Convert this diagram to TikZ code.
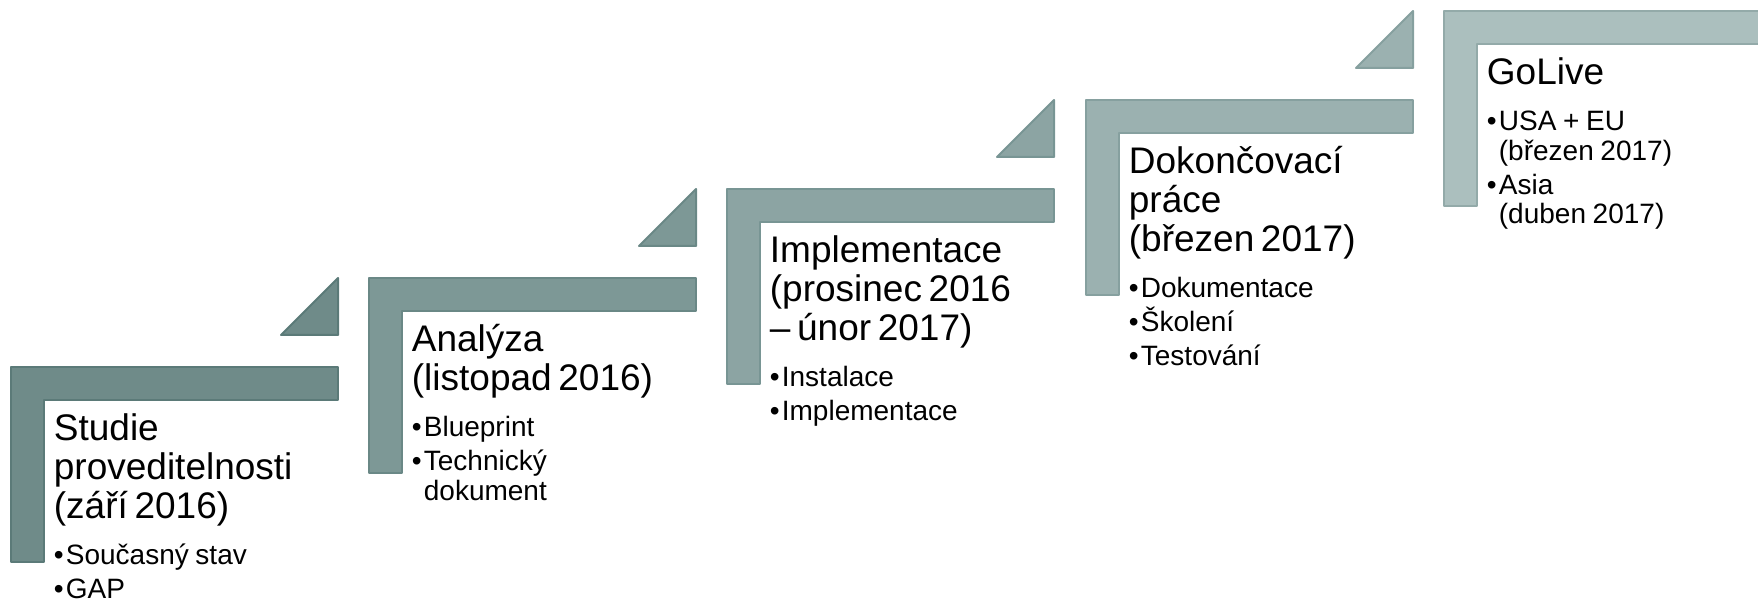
\documentclass[tikz,border=0pt]{standalone}
\usepackage{fontspec}
\setmainfont{Liberation Sans}
\usepackage{tikz}
\definecolor{fillA}{HTML}{6F8B89}
\definecolor{lineA}{HTML}{5B7A78}
\definecolor{fillB}{HTML}{7D9896}
\definecolor{lineB}{HTML}{6A8886}
\definecolor{fillC}{HTML}{8CA4A3}
\definecolor{lineC}{HTML}{789594}
\definecolor{fillD}{HTML}{9BB1B0}
\definecolor{lineD}{HTML}{86A09F}
\definecolor{fillE}{HTML}{ABBFBE}
\definecolor{lineE}{HTML}{93AAA9}
\tikzstyle{stepA} = [fill=fillA, draw=lineA, line width=1pt, line join=round]
\tikzstyle{stepB} = [fill=fillB, draw=lineB, line width=1pt, line join=round]
\tikzstyle{stepC} = [fill=fillC, draw=lineC, line width=1pt, line join=round]
\tikzstyle{stepD} = [fill=fillD, draw=lineD, line width=1pt, line join=round]
\tikzstyle{stepE} = [fill=fillE, draw=lineE, line width=1pt, line join=round]
\tikzstyle{txt} = [anchor=north west, inner sep=0pt, text width=170pt, align=left]
\newcommand{\head}[1]{{\fontsize{18.5}{19.5}\selectfont\lineskiplimit=-20pt\noindent\strut #1\par}\vskip 6.25pt}
\newcommand{\bul}[1]{\vskip 2.25pt{\fontsize{14}{14.75}\selectfont\lineskiplimit=-20pt\hangindent=6pt\hangafter=1\noindent\makebox[6pt][l]{•}#1\par}}

\begin{document}
\begin{tikzpicture}[x=0.5pt,y=-0.5pt]
	  \useasboundingbox (0,0) rectangle (1758,604);
	  \clip (0,0) rectangle (1758,604);

	  \draw [stepA] (11,367) -- ++(327,0) -- ++(0,33) -- ++(-294,0) -- ++(0,162) -- ++(-33,0) -- cycle;
	  \draw [stepA] (281,335) -- (338,335) -- (338,278) -- cycle;
	  \draw [stepB] (369,278) -- ++(327,0) -- ++(0,33) -- ++(-294,0) -- ++(0,162) -- ++(-33,0) -- cycle;
	  \draw [stepB] (639,246) -- (696,246) -- (696,189) -- cycle;
	  \draw [stepC] (727,189) -- ++(327,0) -- ++(0,33) -- ++(-294,0) -- ++(0,162) -- ++(-33,0) -- cycle;
	  \draw [stepC] (997,157) -- (1054,157) -- (1054,100) -- cycle;
	  \draw [stepD] (1086,100) -- ++(327,0) -- ++(0,33) -- ++(-294,0) -- ++(0,162) -- ++(-33,0) -- cycle;
	  \draw [stepD] (1356,68) -- (1413,68) -- (1413,11) -- cycle;
	  \draw [stepE] (1444,11) -- ++(327,0) -- ++(0,33) -- ++(-294,0) -- ++(0,162) -- ++(-33,0) -- cycle;

	  \node (studie) at (53.5,412.7) [txt] {\head{Studie\\proveditelnosti\\(září 2016)}\bul{Současný stav}\bul{GAP}};
	  \node (analyza) at (411.5,323.7) [txt] {\head{Analýza\\(listopad 2016)}\bul{Blueprint}\bul{Technický\newline dokument}};
	  \node (impl) at (769.5,234.7) [txt] {\head{Implementace\\(prosinec 2016\\– únor 2017)}\bul{Instalace}\bul{Implementace}};
	  \node (dokonc) at (1128.5,145.7) [txt] {\head{Dokončovací\\práce\\(březen 2017)}\bul{Dokumentace}\bul{Školení}\bul{Testování}};
	  \node (golive) at (1486.5,56.7) [txt] {\head{GoLive}\bul{USA + EU\newline (březen 2017)}\bul{Asia\newline (duben 2017)}};
\end{tikzpicture}
\end{document}
